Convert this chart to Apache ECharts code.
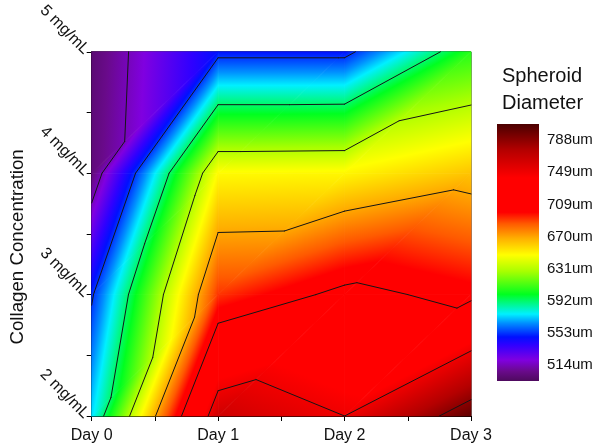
<!DOCTYPE html>
<html><head><meta charset="utf-8">
<script src="https://cdn.jsdelivr.net/npm/echarts@6/dist/echarts.min.js"></script>
<style>html,body{margin:0;padding:0;background:#fff}#c{width:600px;height:448px}</style>
</head><body><div id="c"></div>
<script>
// ---- data ----
const days = ['Day 0', 'Day 1', 'Day 2', 'Day 3'];
const concLabels = ['2 mg/mL', '3 mg/mL', '4 mg/mL', '5 mg/mL'];
// spheroid diameter (um), Day 0..Day 3, one array per collagen concentration
const diam2 = [574, 764, 749, 801];
const diam3 = [551, 692, 714, 704];
const diam4 = [502, 649, 650, 663];
const diam5 = [500, 548, 548, 606];
const contourLevels = [514, 553, 592, 631, 670, 709, 749, 788];
const scaleMin = 494.4, scaleMax = 807.6;

// ---- style ----
const palette = [
  [494, '#4e0a5e'], [506, '#690a8a'], [520, '#8000e0'], [538, '#3000ff'], [548, '#0010ff'],
  [565, '#0090ff'], [576, '#00f0ff'], [600, '#00ff20'], [628, '#a8ff00'], [648, '#ffff00'],
  [668, '#ffb000'], [686, '#ff5a00'], [700, '#ff0000'], [742, '#ff0000'], [776, '#b40000'], [808, '#4a0000']
];
const FONT = "'Liberation Sans', Arial, sans-serif";
const colorStops = palette.map(([v, c]) => ({ offset: Math.min(1, Math.max(0, (v - scaleMin) / (scaleMax - scaleMin))), color: c }));

const rows = [diam2, diam3, diam4, diam5];
function val(i, j) { return rows[j][i]; }
const cells = [];
for (let i = 0; i < 3; i++) for (let j = 0; j < 3; j++) cells.push([i, 2 + j]);

function triangles(api, i, j) {
  const P = (a, b) => api.coord([a, 2 + b]);
  const bl = [P(i, j), val(i, j)], br = [P(i + 1, j), val(i + 1, j)];
  const tl = [P(i, j + 1), val(i, j + 1)], tr = [P(i + 1, j + 1), val(i + 1, j + 1)];
  return [[bl, br, tr], [bl, tr, tl]];
}
function triFill(tri) {
  const [[a, va], [b, vb], [c, vc]] = tri;
  const e1x = b[0] - a[0], e1y = b[1] - a[1], e2x = c[0] - a[0], e2y = c[1] - a[1];
  const det = e1x * e2y - e1y * e2x;
  const d1 = vb - va, d2 = vc - va;
  const gx = (d1 * e2y - e1y * d2) / det;
  const gy = (e1x * d2 - d1 * e2x) / det;
  const g2 = gx * gx + gy * gy || 1e-9;
  const tA = (scaleMin - va) / g2, tB = (scaleMax - va) / g2;
  return { type: 'linear', global: true, x: a[0] + gx * tA, y: a[1] + gy * tA, x2: a[0] + gx * tB, y2: a[1] + gy * tB, colorStops: colorStops };
}
function renderFill(params, api) {
  const i = api.value(0), j = api.value(1) - 2;
  const children = triangles(api, i, j).map(tri => {
    const f = triFill(tri);
    return { type: 'polygon', shape: { points: tri.map(t => t[0]) }, style: { fill: f, stroke: f, lineWidth: 0.8 } };
  });
  return { type: 'group', children };
}
function renderLines(params, api) {
  const i = api.value(0), j = api.value(1) - 2;
  const children = [];
  triangles(api, i, j).forEach(tri => {
    contourLevels.forEach(L => {
      const L2 = L + 1e-3, pts = [];
      for (let k = 0; k < 3; k++) {
        const [p, v] = tri[k], [q, w] = tri[(k + 1) % 3];
        if ((v - L2) * (w - L2) < 0) {
          const t = (L2 - v) / (w - v);
          pts.push([p[0] + t * (q[0] - p[0]), p[1] + t * (q[1] - p[1])]);
        }
      }
      if (pts.length === 2) children.push({ type: 'line', shape: { x1: pts[0][0], y1: pts[0][1], x2: pts[1][0], y2: pts[1][1] }, style: { stroke: '#151515', lineWidth: 1, lineCap: 'round' } });
    });
  });
  return { type: 'group', children };
}
function renderBar(params, api) {
  const top = api.coord([0, scaleMax]), bot = api.coord([1, scaleMin]);
  return { type: 'rect', shape: { x: top[0], y: top[1], width: bot[0] - top[0], height: bot[1] - top[1] },
    style: { fill: { type: 'linear', x: 0, y: 1, x2: 0, y2: 0, colorStops: colorStops } } };
}

const axisBlack = { lineStyle: { color: '#000', width: 1 } };
const chart = echarts.init(document.getElementById('c'));
chart.setOption({
  animation: false,
  textStyle: { fontFamily: FONT },
  title: { text: 'Spheroid\nDiameter', left: 497, top: 58,
    textStyle: { fontSize: 20, fontWeight: 'normal', color: '#111', lineHeight: 27, fontFamily: FONT } },
  grid: [
    { left: 89, top: 47, width: 382, height: 369, show: true, borderColor: '#000', borderWidth: 1, backgroundColor: 'transparent' },
    { left: 497, top: 124, width: 42, height: 257 }
  ],
  xAxis: [
    { type: 'value', gridIndex: 0, min: 0, max: 3, interval: 1,
      axisLine: axisBlack, axisTick: { length: 5, lineStyle: { color: '#000' } },
      minorTick: { show: true, splitNumber: 2, length: 5, lineStyle: { color: '#000' } },
      splitLine: { show: false },
      axisLabel: { formatter: v => days[v], fontSize: 16, color: '#111', margin: 12, fontFamily: FONT } },
    { type: 'value', gridIndex: 1, min: 0, max: 1, show: false }
  ],
  yAxis: [
    { type: 'value', gridIndex: 0, min: 2, max: 5, interval: 1,
      name: 'Collagen Concentration', nameLocation: 'middle', nameGap: 64, nameRotate: 90,
      nameTextStyle: { fontSize: 18.7, color: '#111', fontFamily: FONT, padding: [0, 26, 0, 0] },
      axisLine: axisBlack, axisTick: { length: 5, lineStyle: { color: '#000' } },
      minorTick: { show: true, splitNumber: 2, length: 5, lineStyle: { color: '#000' } },
      splitLine: { show: false },
      axisLabel: { rotate: -45, formatter: v => concLabels[v - 2], fontSize: 16, color: '#111', margin: 5, fontFamily: FONT } },
    { type: 'value', gridIndex: 1, min: scaleMin, max: scaleMax, position: 'right',
      axisLine: { show: false }, axisTick: { show: false }, splitLine: { show: false },
      axisLabel: { customValues: contourLevels, formatter: v => v + 'um', fontSize: 15, color: '#111', margin: 8, fontFamily: FONT } }
  ],
  series: [
    { type: 'custom', xAxisIndex: 0, yAxisIndex: 0, data: cells, encode: { x: 0, y: 1 }, renderItem: renderFill, z: 1, silent: true },
    { type: 'custom', xAxisIndex: 0, yAxisIndex: 0, data: cells, encode: { x: 0, y: 1 }, renderItem: renderLines, z: 2, silent: true },
    { type: 'custom', xAxisIndex: 1, yAxisIndex: 1, data: [[0, scaleMin]], encode: { x: 0, y: 1 }, renderItem: renderBar, silent: true }
  ]
});
</script>
</body></html>
